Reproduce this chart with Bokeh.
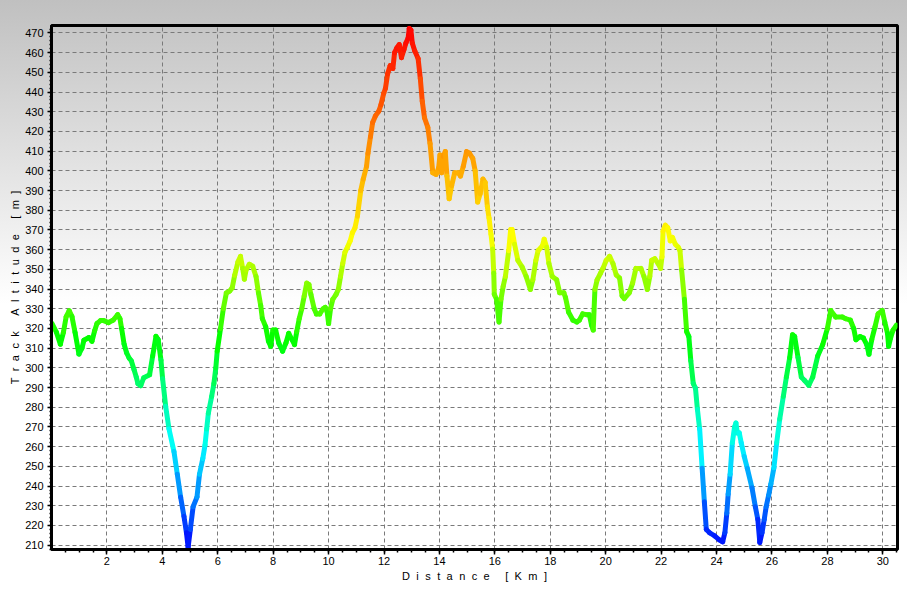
import numpy as np
from bokeh.plotting import figure
from bokeh.models import ColumnDataSource, FixedTicker, Range1d
from bokeh.transform import linear_cmap
from bokeh.embed import file_html
from bokeh.resources import INLINE

distance_km = [
    0.02, 0.18, 0.32, 0.43, 0.53, 0.64, 0.74, 0.85, 0.99, 1.10,
    1.17, 1.35, 1.46, 1.56, 1.64, 1.77, 1.88, 2.06, 2.23, 2.39,
    2.47, 2.53, 2.62, 2.71, 2.80, 2.88, 2.98, 3.06, 3.12, 3.22,
    3.33, 3.54, 3.65, 3.77, 3.85, 3.95, 4.01, 4.12, 4.24, 4.42,
    4.54, 4.66, 4.78, 4.87, 4.93, 5.01, 5.11, 5.25, 5.34, 5.46,
    5.54, 5.60, 5.66, 5.78, 5.86, 5.93, 5.98, 6.10, 6.20, 6.31,
    6.43, 6.52, 6.61, 6.73, 6.82, 6.90, 6.96, 7.02, 7.14, 7.26,
    7.38, 7.47, 7.55, 7.61, 7.73, 7.83, 7.91, 7.99, 8.09, 8.20,
    8.34, 8.46, 8.56, 8.68, 8.77, 8.85, 8.94, 9.03, 9.12, 9.21,
    9.29, 9.36, 9.48, 9.56, 9.68, 9.80, 9.88, 9.95, 10.00, 10.07,
    10.15, 10.27, 10.35, 10.43, 10.51, 10.59, 10.68, 10.78, 10.86, 10.95,
    11.04, 11.16, 11.25, 11.37, 11.42, 11.51, 11.59, 11.69, 11.81, 11.89,
    11.99, 12.05, 12.13, 12.22, 12.32, 12.38, 12.46, 12.55, 12.63, 12.72,
    12.79, 12.87, 12.91, 12.97, 13.02, 13.11, 13.23, 13.31, 13.38, 13.46,
    13.58, 13.66, 13.76, 13.88, 13.97, 14.02, 14.08, 14.14, 14.21, 14.27,
    14.35, 14.44, 14.55, 14.68, 14.76, 14.86, 14.98, 15.08, 15.20, 15.29,
    15.38, 15.47, 15.57, 15.65, 15.73, 15.79, 15.86, 15.92, 15.96, 15.98,
    16.06, 16.15, 16.22, 16.30, 16.38, 16.50, 16.57, 16.62, 16.71, 16.83,
    16.98, 17.13, 17.28, 17.37, 17.48, 17.56, 17.72, 17.78, 17.87, 17.95,
    18.07, 18.23, 18.34, 18.49, 18.55, 18.66, 18.82, 18.96, 19.05, 19.17,
    19.32, 19.41, 19.49, 19.55, 19.61, 19.69, 19.81, 19.90, 20.02, 20.14,
    20.26, 20.38, 20.50, 20.59, 20.67, 20.85, 20.97, 21.09, 21.27, 21.38,
    21.50, 21.59, 21.66, 21.77, 21.89, 21.98, 22.03, 22.07, 22.15, 22.24,
    22.33, 22.41, 22.51, 22.62, 22.68, 22.74, 22.84, 22.92, 23.00, 23.07,
    23.16, 23.24, 23.31, 23.39, 23.48, 23.56, 23.63, 23.75, 23.93, 24.10,
    24.22, 24.30, 24.37, 24.42, 24.49, 24.57, 24.65, 24.70, 24.75, 24.82,
    24.89, 25.00, 25.11, 25.28, 25.40, 25.49, 25.56, 25.64, 25.72, 25.79,
    25.88, 25.96, 26.07, 26.17, 26.28, 26.41, 26.52, 26.64, 26.74, 26.82,
    26.94, 27.06, 27.17, 27.33, 27.47, 27.65, 27.83, 28.00, 28.12, 28.30,
    28.54, 28.65, 28.83, 28.95, 29.03, 29.18, 29.30, 29.42, 29.50, 29.60,
    29.72, 29.83, 29.98, 30.07, 30.17, 30.21, 30.28, 30.37, 30.49,
]
altitude_m = [
    322.5, 318.0, 312.0, 318.0, 326.0, 329.0, 326.0, 318.0, 307.0, 310.0,
    314.0, 315.4, 313.5, 319.0, 322.5, 324.0, 324.0, 323.0, 324.3, 327.0,
    325.0, 320.0, 312.0, 307.7, 305.0, 303.6, 299.0, 295.3, 292.0, 291.0,
    295.0, 296.5, 306.0, 316.0, 314.4, 304.0, 294.5, 280.5, 269.0, 257.5,
    246.0, 234.4, 224.6, 216.3, 209.0, 218.0, 229.5, 234.4, 246.0, 254.0,
    260.8, 269.0, 277.0, 285.5, 292.0, 300.0, 308.5, 320.0, 330.0, 338.0,
    339.0, 340.6, 347.0, 353.8, 356.6, 350.5, 345.0, 349.7, 352.6, 351.6,
    346.4, 338.0, 331.6, 325.0, 320.9, 313.5, 311.0, 319.2, 319.2, 312.6,
    308.5, 312.6, 317.5, 314.3, 311.8, 318.4, 325.0, 330.0, 336.5, 343.0,
    342.3, 337.3, 330.0, 327.4, 327.4, 330.0, 330.7, 328.3, 322.5, 330.0,
    334.8, 337.3, 339.8, 346.4, 353.0, 358.7, 361.2, 364.5, 368.6, 371.0,
    377.0, 390.0, 395.8, 402.3, 408.9, 417.2, 424.6, 427.9, 430.3, 433.6,
    439.4, 441.8, 449.3, 453.4, 452.0, 460.0, 462.4, 464.1, 457.5, 461.6,
    464.9, 467.4, 472.3, 471.5, 464.9, 460.8, 457.0, 446.8, 435.3, 427.0,
    422.1, 413.9, 399.0, 398.2, 401.5, 408.1, 399.0, 407.3, 409.8, 397.4,
    385.9, 392.5, 399.0, 399.0, 397.4, 402.3, 409.8, 409.0, 406.4, 399.9,
    384.2, 388.4, 395.8, 394.1, 381.8, 376.0, 367.8, 360.4, 348.0, 337.3,
    334.8, 323.3, 334.8, 341.4, 346.4, 359.5, 370.2, 370.2, 362.8, 354.6,
    351.3, 346.4, 339.8, 344.7, 354.6, 359.5, 362.0, 365.3, 361.2, 353.0,
    346.4, 344.7, 338.1, 338.1, 335.7, 328.3, 324.2, 323.3, 324.2, 327.4,
    327.0, 327.0, 321.7, 319.2, 339.8, 344.7, 348.0, 350.5, 354.6, 356.6,
    353.0, 347.2, 345.6, 336.5, 335.2, 338.1, 343.0, 350.5, 350.5, 346.4,
    339.8, 346.4, 354.6, 355.4, 353.0, 350.5, 356.3, 369.4, 372.4, 371.1,
    364.5, 366.2, 362.8, 361.2, 359.5, 349.7, 334.8, 318.4, 315.9, 303.6,
    292.1, 289.6, 278.9, 269.0, 249.0, 232.0, 218.0, 216.3, 214.7, 212.7,
    211.7, 216.3, 226.2, 236.0, 246.0, 262.0, 270.0, 272.0, 267.0, 267.0,
    262.0, 255.0, 249.0, 239.0, 229.5, 223.0, 211.4, 216.3, 223.0, 229.5,
    235.3, 241.0, 249.3, 262.0, 274.0, 285.5, 295.3, 305.2, 316.8, 315.9,
    305.2, 295.3, 293.7, 291.2, 295.3, 306.0, 311.8, 320.0, 329.1, 325.8,
    325.8, 325.0, 324.2, 320.0, 314.3, 315.9, 315.1, 311.8, 306.9, 314.3,
    320.9, 327.4, 329.1, 323.3, 317.5, 311.0, 315.1, 319.2, 321.7,
]
x_tick_values = [2, 4, 6, 8, 10, 12, 14, 16, 18, 20, 22, 24, 26, 28, 30]
y_tick_values = [210, 220, 230, 240, 250, 260, 270, 280, 290, 300, 310, 320, 330, 340,
                 350, 360, 370, 380, 390, 400, 410, 420, 430, 440, 450, 460, 470]
x_title = "Distance [Km]"
y_title = "Track Altitude [m]"

# ---- colour ramp (blue -> cyan -> green -> yellow -> red) ----
stop_t = [0.0, 0.2, 0.4, 0.6, 1.0]
stop_rgb = [(0, 0, 255), (0, 255, 255), (0, 255, 0), (255, 255, 0), (255, 0, 0)]
tt = np.linspace(0, 1, 256)
rr = np.interp(tt, stop_t, [c[0] for c in stop_rgb])
gg = np.interp(tt, stop_t, [c[1] for c in stop_rgb])
bb = np.interp(tt, stop_t, [c[2] for c in stop_rgb])
palette = ["#%02x%02x%02x" % (int(r), int(g), int(b)) for r, g, b in zip(rr, gg, bb)]

LETTER_GAP = "\u2002\u200a"
WORD_GAP = "\u2002\u2009\u2002\u2009"


def spaced(s):
    return WORD_GAP.join(LETTER_GAP.join(w) for w in s.split(" "))


d = np.array(distance_km)
a = np.array(altitude_m)
src = ColumnDataSource(dict(x0=d[:-1], y0=a[:-1], x1=d[1:], y1=a[1:],
                            ym=(a[:-1] + a[1:]) / 2.0))

p = figure(width=907, height=584, x_range=Range1d(0, 30.53), y_range=Range1d(207.8, 473.8),
           output_backend="svg", toolbar_location=None,
           min_border_left=51, min_border_right=10, min_border_top=25, min_border_bottom=35)
p.border_fill_color = None
p.background_fill_color = None
p.styles = {"background": "linear-gradient(to bottom, #c0c0c0 0%, #ffffff 52%, #ffffff 100%)"}
p.outline_line_color = "black"
p.outline_line_width = 3

p.segment("x0", "y0", "x1", "y1", source=src,
          line_color=linear_cmap("ym", palette, 208, 472),
          line_width=5, line_cap="round")

p.xaxis.ticker = FixedTicker(ticks=x_tick_values,
                             minor_ticks=list(np.arange(0.5, 30.6, 0.5)))
p.yaxis.ticker = FixedTicker(ticks=y_tick_values,
                             minor_ticks=list(np.arange(208, 474, 2)))

p.grid.grid_line_color = "#7a7a7a"
p.grid.grid_line_dash = "4 3"
p.grid.grid_line_width = 1

for ax in (p.xaxis[0], p.yaxis[0]):
    ax.axis_line_color = "black"
    ax.axis_line_width = 3
    ax.major_tick_line_color = "black"
    ax.minor_tick_line_color = "black"
    ax.major_tick_line_width = 1.5
    ax.minor_tick_line_width = 1.5
    ax.major_tick_in = 0
    ax.minor_tick_in = 0
    ax.major_label_text_font = "Liberation Sans"
    ax.major_label_text_font_size = "11px"
    ax.major_label_text_color = "black"
    ax.axis_label_text_font = "Liberation Sans"
    ax.axis_label_text_font_size = "11px"
    ax.axis_label_text_font_style = "normal"
    ax.axis_label_text_color = "black"

p.xaxis.major_tick_out = 5
p.xaxis.minor_tick_out = 3
p.xaxis.major_label_standoff = 2
p.xaxis.axis_label_standoff = 2
p.xaxis.axis_label = spaced(x_title)

p.yaxis.major_tick_out = 4
p.yaxis.minor_tick_out = 2
p.yaxis.major_label_standoff = 4
p.yaxis.axis_label_standoff = 1
p.yaxis.axis_label = spaced(y_title)

open("out.html", "w").write(file_html(p, INLINE))
